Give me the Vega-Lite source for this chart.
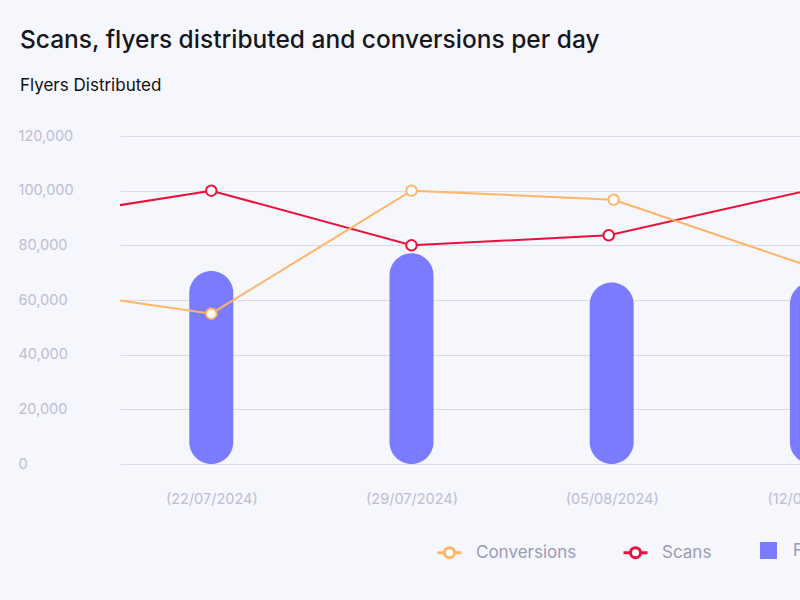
{
  "$schema": "https://vega.github.io/schema/vega-lite/v6.json",
  "width": 800,
  "height": 328,
  "autosize": {"type": "none"},
  "padding": {"left": 120, "top": 136, "right": 0, "bottom": 136},
  "background": "#F6F6FD",
  "config": {"view": {"stroke": null}, "font": "Inter"},
  "title": {
    "text": "Scans, flyers distributed and conversions per day",
    "subtitle": "Flyers Distributed",
    "anchor": "start",
    "frame": "group",
    "dx": -100,
    "offset": 33,
    "fontSize": 24.5,
    "fontWeight": 500,
    "color": "#16161D",
    "subtitleFontSize": 17,
    "subtitleColor": "#111111",
    "subtitlePadding": 25
  },
  "data": {
    "values": [
      {"date": "2024-07-22T00:00:00", "series": "Flyers Distributed", "value": 70600},
      {"date": "2024-07-29T00:00:00", "series": "Flyers Distributed", "value": 77100},
      {"date": "2024-08-05T00:00:00", "series": "Flyers Distributed", "value": 66400},
      {"date": "2024-08-12T00:00:00", "series": "Flyers Distributed", "value": 66500},
      {"date": "2024-07-15T00:00:00", "series": "Scans", "value": 88400},
      {"date": "2024-07-22T00:00:00", "series": "Scans", "value": 100000},
      {"date": "2024-07-29T00:00:00", "series": "Scans", "value": 80000},
      {"date": "2024-08-04T21:30:00", "series": "Scans", "value": 83700},
      {"date": "2024-08-12T00:00:00", "series": "Scans", "value": 100400},
      {"date": "2024-07-15T00:00:00", "series": "Conversions", "value": 65600},
      {"date": "2024-07-22T00:00:00", "series": "Conversions", "value": 55000},
      {"date": "2024-07-29T00:00:00", "series": "Conversions", "value": 100000},
      {"date": "2024-08-05T01:40:00", "series": "Conversions", "value": 96700},
      {"date": "2024-08-12T00:00:00", "series": "Conversions", "value": 72000}
    ]
  },
  "encoding": {
    "x": {
      "field": "date",
      "type": "temporal",
      "scale": {
        "nice": false,
        "padding": 0,
        "domain": [
          {"year": 2024, "month": "Jul", "date": 18, "hours": 19, "minutes": 24},
          {"year": 2024, "month": "Aug", "date": 15, "hours": 18, "minutes": 43}
        ]
      },
      "axis": {
        "title": null,
        "values": [
          {"year": 2024, "month": "Jul", "date": 22},
          {"year": 2024, "month": "Jul", "date": 29},
          {"year": 2024, "month": "Aug", "date": 5},
          {"year": 2024, "month": "Aug", "date": 12}
        ],
        "format": "(%d/%m/%Y)",
        "labelFontSize": 14.5,
        "labelColor": "#BDBDD5",
        "labelPadding": 28,
        "ticks": false,
        "grid": false,
        "domain": false,
        "labelFlush": false,
        "labelOverlap": false
      }
    },
    "y": {
      "field": "value",
      "type": "quantitative",
      "stack": null,
      "scale": {"domain": [0, 120000], "nice": false},
      "axis": {
        "title": null,
        "values": [0, 20000, 40000, 60000, 80000, 100000, 120000],
        "format": ",.0f",
        "labelAlign": "left",
        "labelBaseline": "middle",
        "labelPadding": 102,
        "labelFontSize": 14.5,
        "labelColor": "#BDBDD5",
        "domain": false,
        "ticks": false,
        "grid": true,
        "gridColor": "#D9D9E8",
        "gridWidth": 1
      }
    }
  },
  "layer": [
    {
      "transform": [{"filter": "datum.series === 'Flyers Distributed'"}],
      "mark": {"type": "bar", "size": 44, "cornerRadius": 22},
      "encoding": {
        "fill": {
          "field": "series",
          "type": "nominal",
          "scale": {"domain": ["Flyers Distributed"], "range": ["#7B7BFF"]},
          "legend": {
            "orient": "none",
            "legendX": 640,
            "legendY": 406,
            "title": null,
            "symbolType": "square",
            "symbolSize": 289,
            "symbolStrokeWidth": 0,
            "labelFontSize": 17,
            "labelColor": "#9B9BB6",
            "labelOffset": 16
          }
        }
      }
    },
    {
      "transform": [{"filter": "datum.series !== 'Flyers Distributed'"}],
      "mark": {"type": "line", "strokeWidth": 2, "clip": true},
      "encoding": {
        "stroke": {
          "field": "series",
          "type": "nominal",
          "scale": {"domain": ["Conversions", "Scans"], "range": ["#FFB567", "#E8123C"]},
          "legend": {
            "orient": "none",
            "legendX": 316,
            "legendY": 403,
            "direction": "horizontal",
            "columns": 2,
            "title": null,
            "symbolType": "M-1,0L-0.42,0M0.42,0L1,0M0.42,0A0.42,0.42,0,1,1,-0.42,0A0.42,0.42,0,1,1,0.42,0Z",
            "symbolSize": 576,
            "symbolStrokeWidth": 3,
            "symbolFillColor": "white",
            "labelFontSize": 17,
            "labelColor": "#9B9BB6",
            "labelOffset": 13,
            "columnPadding": 40,
            "encode": {"symbols": {"update": {"fill": {"value": "white"}}}}
          }
        }
      }
    },
    {
      "transform": [{"filter": "datum.series !== 'Flyers Distributed'"}],
      "mark": {"type": "point", "filled": false, "fill": "white", "size": 110, "strokeWidth": 2, "opacity": 1, "clip": true},
      "encoding": {
        "stroke": {"field": "series", "type": "nominal"}
      }
    }
  ]
}
